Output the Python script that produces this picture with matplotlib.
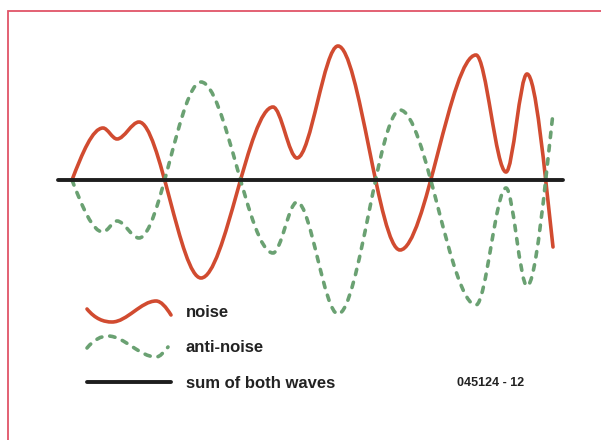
import matplotlib
matplotlib.use("Agg")
import matplotlib.pyplot as plt
from matplotlib.path import Path
from matplotlib.patches import PathPatch

# --- data: key points of the noise wave (x position, amplitude) ---
noise_x = [72, 103, 117, 139, 201, 273, 297, 338, 400, 476, 506, 527, 553]
noise_y = [0, 52, 41, 58, -98, 73, 22, 134, -70, 125, 8, 106, -67]
# slope at each key point (0 at the turning points)
noise_slope = [2.6, 0, 0, 0, 0, 0, 0, 0, 0, 0, 0, 0, -9]

# anti-noise is the mirror image of the noise
anti_y = [-v for v in noise_y]
anti_slope = [-s for s in noise_slope]

sum_x = [58, 563]
sum_y = [0, 0]

# legend swatches
leg_noise_x = [87, 112, 156, 171]
leg_noise_y = [-129, -142, -121, -135]
leg_noise_slope = [-1.2, 0, 0, -1.6]
leg_anti_x = [87, 108, 156, 168]
leg_anti_y = [-168, -156, -177, -167]
leg_anti_slope = [1.2, 0, 0, 1.3]
leg_sum_x = [87, 171]
leg_sum_y = [-202, -202]

labels = ["noise", "anti-noise", "sum of both waves"]
code = "045124 - 12"

RED = "#d14b30"
GREEN = "#6aa172"
BLACK = "#1e1e1e"
FRAME = "#e05468"


def wave(xs, ys, slopes):
    verts = [(xs[0], ys[0])]
    codes = [Path.MOVETO]
    for i in range(len(xs) - 1):
        h = xs[i + 1] - xs[i]
        verts += [(xs[i] + h / 3, ys[i] + slopes[i] * h / 3),
                  (xs[i + 1] - h / 3, ys[i + 1] - slopes[i + 1] * h / 3),
                  (xs[i + 1], ys[i + 1])]
        codes += [Path.CURVE4] * 3
    return Path(verts, codes)


fig = plt.figure(figsize=(6.01, 4.40), dpi=100)
ax = fig.add_axes([0, 0, 1, 1])
ax.set_xlim(0, 601)
ax.set_ylim(-260, 180)
ax.axis("off")

# frame (left and top edges)
ax.plot([8, 8, 601], [-260, 169, 169], color=FRAME, lw=1.3, solid_joinstyle="miter")

dash = (0, (1.5, 2.2))

ax.add_patch(PathPatch(wave(noise_x, noise_y, noise_slope), fill=False,
                       edgecolor=RED, lw=2.6, capstyle="round"))
ax.add_patch(PathPatch(wave(noise_x, anti_y, anti_slope), fill=False,
                       edgecolor=GREEN, lw=2.6, linestyle=dash, capstyle="round"))
ax.plot(sum_x, sum_y, color=BLACK, lw=2.8, solid_capstyle="round")

# legend
ax.add_patch(PathPatch(wave(leg_noise_x, leg_noise_y, leg_noise_slope), fill=False,
                       edgecolor=RED, lw=2.6, capstyle="round"))
ax.add_patch(PathPatch(wave(leg_anti_x, leg_anti_y, leg_anti_slope), fill=False,
                       edgecolor=GREEN, lw=2.6, linestyle=dash, capstyle="round"))
ax.plot(leg_sum_x, leg_sum_y, color=BLACK, lw=2.8, solid_capstyle="round")

label_y = [-132, -167, -203]
for lab, ly in zip(labels, label_y):
    ax.text(186, ly, lab, fontsize=12, fontweight="bold", family="Liberation Sans",
            color="#222222", va="center", ha="left")
ax.text(457, -203, code, fontsize=9, fontweight="bold", family="Liberation Sans",
        color="#222222", va="center", ha="left")

fig.savefig("out.png", dpi=100)
